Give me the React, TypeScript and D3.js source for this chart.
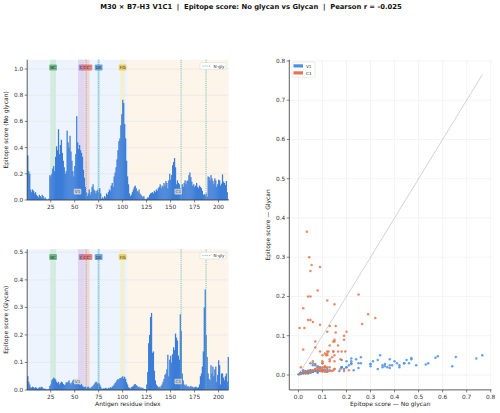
import React from "react";
import * as d3 from "d3";

const titleText = "M30 × B7-H3 V1C1  |  Epitope score: No glycan vs Glycan  |  Pearson r = -0.025";

const noGlycan = [
  0.34,0.22,0.20,0.08,0.06,0.08,0.07,0.05,0.06,0.04,
  0.03,0.02,0.04,0.03,0.02,0.04,0.03,0.01,0.02,0.01,
  0.00,0.005,0.01,0.19,0.18,0.20,0.24,0.26,0.22,0.33,
  0.41,0.38,0.54,0.35,0.42,0.46,0.36,0.30,0.25,0.20,
  0.22,0.53,0.44,0.40,0.49,0.37,0.30,0.22,0.18,0.26,
  0.35,0.64,0.44,0.39,0.42,0.38,0.36,0.33,0.23,0.17,
  0.10,0.06,0.03,0.05,0.08,0.04,0.06,0.10,0.12,0.08,
  0.07,0.05,0.07,0.08,0.06,0.09,0.05,0.01,0.02,0.01,
  0.03,0.02,0.05,0.04,0.06,0.08,0.07,0.11,0.13,0.10,
  0.18,0.21,0.25,0.31,0.38,0.45,0.47,0.57,0.655,0.765,
  0.74,0.58,0.47,0.30,0.18,0.12,0.05,0.03,0.04,0.06,
  0.08,0.10,0.11,0.09,0.07,0.06,0.08,0.05,0.04,0.03,
  0.02,0.03,0.01,0.005,0.01,0.02,0.02,0.04,0.05,0.055,
  0.06,0.05,0.07,0.06,0.08,0.07,0.09,0.10,0.12,0.09,
  0.11,0.10,0.13,0.11,0.145,0.13,0.09,0.15,0.20,0.155,
  0.19,0.265,0.29,0.32,0.25,0.12,0.15,0.13,0.12,0.09,
  0.08,0.12,0.10,0.13,0.15,0.12,0.145,0.15,0.19,0.21,
  0.175,0.14,0.11,0.12,0.10,0.11,0.13,0.10,0.09,0.11,
  0.10,0.09,0.07,0.04,0.045,0.035,0.05,0.025,0.18,0.175,
  0.15,0.19,0.165,0.145,0.12,0.165,0.15,0.10,0.12,0.155,
  0.15,0.11,0.125,0.195,0.14,0.13,0.115,0.145,0.06,0.005,
];

const glycan = [
  0.05,0.03,0.02,0.01,0.008,0.012,0.01,0.006,0.01,0.008,
  0.005,0.006,0.01,0.008,0.012,0.01,0.006,0.004,0.005,0.003,
  0.002,0.002,0.004,0.015,0.02,0.035,0.04,0.045,0.042,0.038,
  0.03,0.025,0.03,0.02,0.025,0.03,0.028,0.022,0.018,0.02,
  0.028,0.027,0.03,0.035,0.025,0.02,0.028,0.035,0.038,0.03,
  0.025,0.022,0.03,0.025,0.02,0.018,0.022,0.015,0.012,0.01,
  0.012,0.008,0.01,0.012,0.008,0.006,0.01,0.012,0.015,0.02,
  0.025,0.03,0.028,0.022,0.025,0.02,0.012,0.005,0.004,0.006,
  0.005,0.008,0.006,0.004,0.008,0.006,0.01,0.008,0.012,0.015,
  0.02,0.025,0.03,0.035,0.04,0.038,0.043,0.044,0.046,0.05,
  0.042,0.048,0.04,0.028,0.02,0.01,0.008,0.005,0.01,0.012,
  0.015,0.02,0.022,0.018,0.015,0.01,0.012,0.008,0.01,0.006,
  0.008,0.004,0.003,0.003,0.02,0.065,0.17,0.20,0.265,0.28,
  0.135,0.14,0.07,0.035,0.02,0.015,0.01,0.012,0.008,0.015,
  0.02,0.03,0.04,0.055,0.06,0.075,0.128,0.05,0.11,0.125,
  0.10,0.13,0.155,0.145,0.205,0.19,0.18,0.125,0.11,0.275,
  0.215,0.06,0.035,0.02,0.015,0.02,0.012,0.015,0.01,0.012,
  0.015,0.01,0.012,0.008,0.01,0.012,0.01,0.008,0.01,0.02,
  0.05,0.06,0.085,0.14,0.30,0.365,0.20,0.12,0.06,0.04,
  0.035,0.09,0.06,0.085,0.05,0.075,0.085,0.03,0.055,0.108,
  0.09,0.02,0.06,0.06,0.045,0.035,0.05,0.06,0.03,0.12,
];

const residues = d3.range(1, noGlycan.length + 1);

const domainNames = ["V1", "C1"];
const domainStarts = [1, 106];
const domainEnds = [105, 210];

const loopNames = ["BC", "C", "CC'", "DE", "FG"];
const loopStarts = [25, 54, 61, 74, 98];
const loopEnds = [30, 60, 65, 76, 102];

const nGlySites = [62, 75, 161, 187];

const xTicks = [25, 50, 75, 100, 125, 150, 175, 200];
const topYTicks = [0, 0.2, 0.4, 0.6, 0.8, 1.0];
const botYTicks = [0, 0.1, 0.2, 0.3, 0.4, 0.5];
const scatterTicks = [0, 0.1, 0.2, 0.3, 0.4, 0.5, 0.6, 0.7, 0.8];

const FONT = "DejaVu Sans, sans-serif";
const BAR = "#3b7dd8";
const BLUE = "#4a90e2";
const ORANGE = "#e2764f";
const domainFill = ["#edf4fd", "#fdf4ea"];
const loopBand = ["#cfeadb", "#ddd0ee", "#f5cfcf", "#c9e2f4", "#f3edc9"];
const loopLabel = ["#62b77f", "#a681cc", "#e27a7a", "#5e9dd6", "#ebcb5c"];
const NGLY = "#6cc0b6";

function ResiduePanel({ values, top, bottom, yMax, yTicks, yLabel, showXLabel }) {
  const x = d3.scaleLinear().domain([0.5, 210.5]).range([27.2, 228.6]);
  const y = d3.scaleLinear().domain([0, yMax]).range([bottom, top]);
  const [x0, x1] = x.range();
  const h = bottom - top;
  const fmt = d3.format(".1f");
  const labelY = bottom - h * 0.945;
  const domLabelY = bottom - h * 0.06;
  return (
    <g>
      {domainNames.map((d, i) => (
        <rect key={d} x={x(domainStarts[i] - 0.5)} y={top} width={x(domainEnds[i] + 0.5) - x(domainStarts[i] - 0.5)} height={h} fill={domainFill[i]} />
      ))}
      {yTicks.map((t) => (
        <line key={t} x1={x0} x2={x1} y1={y(t)} y2={y(t)} stroke="#e4e4e4" strokeWidth={0.6} />
      ))}
      {loopNames.map((n, i) => (
        <rect key={n} x={x(loopStarts[i] - 0.5)} y={top} width={x(loopEnds[i] + 0.5) - x(loopStarts[i] - 0.5)} height={h} fill={loopBand[i]} opacity={0.85} />
      ))}
      {residues.map((r, i) => (
        <rect key={r} x={x(r - 0.5)} y={y(values[i])} width={x(r + 0.5) - x(r - 0.5) + 0.3} height={bottom - y(values[i])} fill={BAR} />
      ))}
      {nGlySites.map((s) => (
        <line key={s} x1={x(s)} x2={x(s)} y1={top} y2={bottom} stroke={NGLY} strokeWidth={0.9} strokeDasharray="1.2,0.9" />
      ))}
      {loopNames.map((n, i) => {
        const cx = x((loopStarts[i] + loopEnds[i]) / 2);
        const w = n.length * 2.6 + 2.6;
        return (
          <g key={n}>
            <rect x={cx - w / 2} y={labelY - 3} width={w} height={6} rx={1} fill={loopLabel[i]} opacity={0.9} />
            <text x={cx} y={labelY + 1.5} fontSize={4.3} textAnchor="middle" fill="#333" fontFamily={FONT}>{n}</text>
          </g>
        );
      })}
      {domainNames.map((d, i) => {
        const cx = x((domainStarts[i] + domainEnds[i]) / 2);
        return (
          <g key={d}>
            <rect x={cx - 3.8} y={domLabelY - 2.8} width={7.6} height={5.6} rx={1} fill="#d9d9d9" opacity={0.85} />
            <text x={cx} y={domLabelY + 1.5} fontSize={4.3} textAnchor="middle" fill="#555" fontFamily={FONT}>{d}</text>
          </g>
        );
      })}
      <g>
        <rect x={200} y={top + 3} width={26} height={6.6} rx={1} fill="#fff" stroke="#ccc" strokeWidth={0.4} />
        <line x1={202.5} x2={211} y1={top + 6.3} y2={top + 6.3} stroke={NGLY} strokeWidth={0.9} strokeDasharray="1.2,0.9" />
        <text x={213.5} y={top + 7.8} fontSize={4.2} fill="#333" fontFamily={FONT}>N-gly</text>
      </g>
      <line x1={x0} x2={x0} y1={top} y2={bottom} stroke="#333" strokeWidth={0.8} />
      <line x1={x0} x2={x1} y1={bottom} y2={bottom} stroke="#333" strokeWidth={0.8} />
      {yTicks.map((t) => (
        <g key={t}>
          <line x1={x0 - 2.5} x2={x0} y1={y(t)} y2={y(t)} stroke="#333" strokeWidth={0.6} />
          <text x={x0 - 4} y={y(t) + 2} fontSize={5.8} textAnchor="end" fill="#333" fontFamily={FONT}>{fmt(t)}</text>
        </g>
      ))}
      {xTicks.map((t) => (
        <g key={t}>
          <line x1={x(t)} x2={x(t)} y1={bottom} y2={bottom + 2.5} stroke="#333" strokeWidth={0.6} />
          <text x={x(t)} y={bottom + 8.6} fontSize={5.8} textAnchor="middle" fill="#333" fontFamily={FONT}>{t}</text>
        </g>
      ))}
      <text transform={`translate(7.5,${(top + bottom) / 2}) rotate(-90)`} fontSize={6} textAnchor="middle" fill="#222" fontFamily={FONT}>{yLabel}</text>
      {showXLabel && (
        <text x={(x0 + x1) / 2} y={bottom + 16} fontSize={6} textAnchor="middle" fill="#222" fontFamily={FONT}>Antigen residue index</text>
      )}
    </g>
  );
}

function Scatter() {
  const lo = -0.038, hi = 0.803;
  const sx = d3.scaleLinear().domain([lo, hi]).range([289.3, 491.4]);
  const sy = d3.scaleLinear().domain([lo, hi]).range([389.9, 59.8]);
  const fmt = d3.format(".1f");
  const maxV = Math.max(d3.max(noGlycan), d3.max(glycan));
  const minV = Math.min(d3.min(noGlycan), d3.min(glycan));
  const isV1 = (r) => r >= domainStarts[0] && r <= domainEnds[0];
  const v1 = residues.filter(isV1);
  const c1 = residues.filter((r) => !isV1(r));
  const [xa, xb] = sx.range();
  const [ya, yb] = sy.range();
  return (
    <g>
      {scatterTicks.map((t) => (
        <g key={t}>
          <line x1={sx(t)} x2={sx(t)} y1={yb} y2={ya} stroke="#ececec" strokeWidth={0.6} />
          <line x1={xa} x2={xb} y1={sy(t)} y2={sy(t)} stroke="#ececec" strokeWidth={0.6} />
        </g>
      ))}
      <line x1={sx(minV)} y1={sy(minV)} x2={sx(maxV)} y2={sy(maxV)} stroke="#b5b5b5" strokeWidth={0.6} />
      {v1.map((r) => (
        <circle key={r} cx={sx(noGlycan[r - 1])} cy={sy(glycan[r - 1])} r={1.25} fill={BLUE} opacity={0.85} />
      ))}
      {c1.map((r) => (
        <circle key={r} cx={sx(noGlycan[r - 1])} cy={sy(glycan[r - 1])} r={1.25} fill={ORANGE} opacity={0.85} />
      ))}
      <line x1={xa} x2={xa} y1={yb} y2={ya} stroke="#333" strokeWidth={0.8} />
      <line x1={xa} x2={xb} y1={ya} y2={ya} stroke="#333" strokeWidth={0.8} />
      {scatterTicks.map((t) => (
        <g key={t}>
          <line x1={xa - 2.5} x2={xa} y1={sy(t)} y2={sy(t)} stroke="#333" strokeWidth={0.6} />
          <text x={xa - 4} y={sy(t) + 2} fontSize={5.8} textAnchor="end" fill="#333" fontFamily={FONT}>{fmt(t)}</text>
          <line x1={sx(t)} x2={sx(t)} y1={ya} y2={ya + 2.5} stroke="#333" strokeWidth={0.6} />
          <text x={sx(t)} y={ya + 8.6} fontSize={5.8} textAnchor="middle" fill="#333" fontFamily={FONT}>{fmt(t)}</text>
        </g>
      ))}
      <text transform={`translate(270,${(ya + yb) / 2}) rotate(-90)`} fontSize={6} textAnchor="middle" fill="#222" fontFamily={FONT}>Epitope score — Glycan</text>
      <text x={(xa + xb) / 2} y={ya + 16} fontSize={6} textAnchor="middle" fill="#222" fontFamily={FONT}>Epitope score — No glycan</text>
      <g>
        <rect x={292} y={62} width={23} height={15.4} rx={1} fill="#fff" stroke="#ccc" strokeWidth={0.4} opacity={0.9} />
        <rect x={293.5} y={64.3} width={9.5} height={3.2} fill={BLUE} />
        <text x={306} y={67.6} fontSize={4.2} fill="#333" fontFamily={FONT}>V1</text>
        <rect x={293.5} y={71.3} width={9.5} height={3.2} fill={ORANGE} />
        <text x={306} y={74.6} fontSize={4.2} fill="#333" fontFamily={FONT}>C1</text>
      </g>
    </g>
  );
}

export default function App() {
  return (
    <svg width={500} height={413} style={{ position: "absolute", left: 0, top: 0, background: "#fff" }}>
      <rect x={0} y={0} width={500} height={413} fill="#fff" />
      <text x={251} y={9} fontSize={6.8} fontWeight="bold" textAnchor="middle" fill="#111" fontFamily={FONT} style={{ whiteSpace: "pre" }}>{titleText}</text>
      <ResiduePanel values={noGlycan} top={59.7} bottom={200} yMax={d3.max(noGlycan) * 1.4} yTicks={topYTicks} yLabel="Epitope score (No glycan)" showXLabel={false} />
      <ResiduePanel values={glycan} top={249.3} bottom={390} yMax={d3.max(glycan) * 1.4} yTicks={botYTicks} yLabel="Epitope score (Glycan)" showXLabel={true} />
      <Scatter />
    </svg>
  );
}
